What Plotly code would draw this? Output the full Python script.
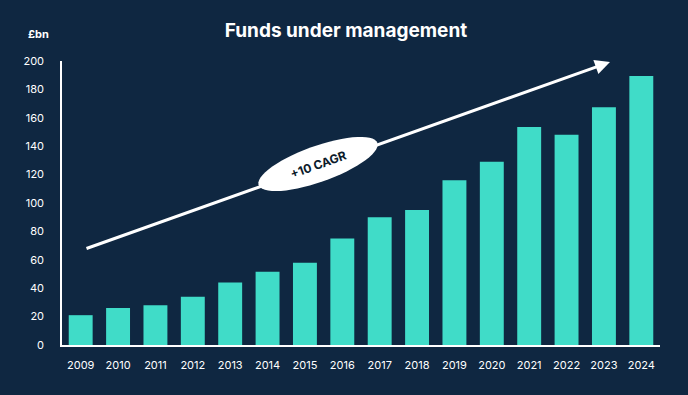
import numpy as np
import plotly.graph_objects as go

years = [str(y) for y in range(2009, 2025)]
funds = [21, 26, 28, 34, 44, 51.5, 58, 75, 90, 95, 116, 129, 153.5, 148, 167.5, 189.5]
y_ticks = list(range(0, 201, 20))

W, H = 688, 395
L, R, T, B = 62, 28, 61, 50
pw, ph = W - L - R, H - T - B

def px2paper(x, y):
    return (x - L) / pw, (H - B - y) / ph

BG = "#0f2741"
BAR = "#40dcc8"
FONT = "Inter"

fig = go.Figure(go.Bar(x=years, y=funds, marker_color=BAR, marker_line_width=0))

# arrow
hx, hy = px2paper(610, 62)
fig.add_annotation(x=hx, y=hy, xref="paper", yref="paper", ax=-525, ay=187,
                   axref="pixel", ayref="pixel", showarrow=True, arrowhead=2,
                   arrowsize=1.0, arrowwidth=3, arrowcolor="white", text="")

# rotated ellipse
cx, cy = 318, 164
ang = np.arctan2(187, 525)
a, b = 63, 18
t = np.linspace(0, 2 * np.pi, 60)
ex = cx + a * np.cos(t) * np.cos(ang) + b * np.sin(t) * np.sin(ang)
ey = cy - a * np.cos(t) * np.sin(ang) + b * np.sin(t) * np.cos(ang)
pts = [px2paper(x, y) for x, y in zip(ex, ey)]
path = "M " + " L ".join(f"{p[0]:.4f},{p[1]:.4f}" for p in pts) + " Z"
fig.add_shape(type="path", path=path, xref="paper", yref="paper",
              fillcolor="white", line=dict(width=0))
tx, ty = px2paper(cx, cy)
fig.add_annotation(x=tx, y=ty, xref="paper", yref="paper", text="<b>+10 CAGR</b>",
                   showarrow=False, textangle=-np.degrees(ang),
                   xanchor="center", yanchor="middle",
                   font=dict(family=FONT, size=12, color="#0b1a2a"))

# unit label
ux, uy = px2paper(38, 34)
fig.add_annotation(x=ux, y=uy, xref="paper", yref="paper", text="<b>£bn</b>",
                   showarrow=False, xanchor="center", yanchor="middle",
                   font=dict(family=FONT, size=11, color="white"))

fig.update_layout(
    width=W, height=H,
    margin=dict(l=L, r=R, t=T, b=B),
    paper_bgcolor=BG, plot_bgcolor=BG,
    bargap=0.36,
    showlegend=False,
    title=dict(text="<b>Funds under management</b>", x=346 / W, xanchor="center",
               y=1 - 30 / H, yanchor="middle",
               font=dict(family=FONT, size=19, color="white")),
    font=dict(family=FONT, color="white", size=11),
)
fig.update_xaxes(showline=True, linecolor="white", linewidth=1.5, showgrid=False,
                 ticks="", ticklabelstandoff=9, tickfont=dict(size=11, color="white"))
fig.update_yaxes(range=[0, 200], tickvals=y_ticks, showline=True, linecolor="white",
                 linewidth=1.5, showgrid=False, zeroline=False, ticks="",
                 ticklabelstandoff=14, tickfont=dict(size=11, color="white"))

fig.write_html("out.html", config={"displayModeBar": False},
               post_script="document.body.style.margin='0';document.body.style.background='%s';" % BG)
